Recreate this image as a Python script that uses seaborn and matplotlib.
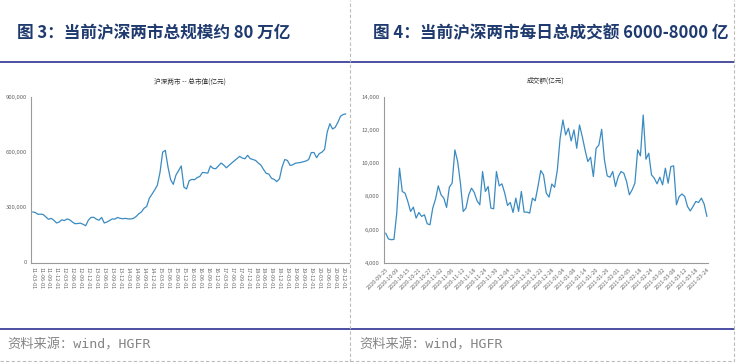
import numpy as np
import pandas as pd
import seaborn as sns
import matplotlib.pyplot as plt
from matplotlib.lines import Line2D
from matplotlib.ticker import FuncFormatter

# ---- data -------------------------------------------------------------
# monthly total market cap (亿元), 2011-03 .. 2021-01
cap_values = [
    275000, 272000, 262000, 263000, 261000, 248000, 235000, 240000, 230000, 215000,
    220000, 232000, 228000, 237000, 232000, 220000, 211000, 212000, 214000, 208000,
    200000, 230000, 245000, 246000, 236000, 230000, 245000, 215000, 220000, 228000,
    237000, 236000, 245000, 240000, 238000, 240000, 237000, 237000, 240000, 250000,
    265000, 275000, 295000, 305000, 350000, 372000, 395000, 420000, 490000, 600000,
    610000, 520000, 450000, 425000, 475000, 500000, 525000, 410000, 400000, 445000,
    452000, 450000, 462000, 468000, 490000, 488000, 486000, 525000, 512000, 510000,
    525000, 541000, 530000, 515000, 528000, 541000, 553000, 565000, 577000, 568000,
    564000, 583000, 565000, 560000, 555000, 541000, 530000, 506000, 485000, 481000,
    458000, 452000, 440000, 455000, 520000, 560000, 555000, 528000, 531000, 540000,
    542000, 544000, 548000, 552000, 560000, 598000, 598000, 570000, 592000, 600000,
    615000, 710000, 755000, 726000, 735000, 762000, 795000, 805000, 808000,
]
cap_months = pd.date_range("2011-03-01", periods=len(cap_values), freq="MS")
cap_ticks = list(range(0, 118, 3))
cap_tick_labels = [cap_months[i].strftime("%y-%m-%d") for i in cap_ticks]

# daily turnover (亿元), trading days 2020-09-25 .. 2021-03-24
turnover_values = [
    5800, 5450, 5400, 5420, 7000, 9700, 8300, 8200, 7700, 7100,
    7360, 6700, 7040, 6800, 6900, 6360, 6300, 7300, 7840, 8640,
    8100, 7900, 7340, 8560, 8800, 10800, 10100, 8800, 7100, 7300,
    8100, 8500, 8240, 7740, 7500, 9500, 8300, 8600, 7300, 7260,
    9500, 8640, 8760, 8200, 7460, 7640, 7040, 7900, 7100, 8300,
    7060, 7060, 7000, 7900, 7740, 8600, 9560, 9300, 8200, 7960,
    8750, 8550, 9600, 11500, 12600, 11700, 12100, 11340, 12000, 10900,
    12300, 11600, 10800, 10100, 10360, 9200, 10900, 11100, 12040, 10200,
    9240, 9160, 9500, 8600, 9200, 9500, 9400, 8900, 8100, 8400,
    8800, 10800, 10440, 12900, 10240, 10600, 9300, 9100, 8760, 9160,
    8700, 9700, 8800, 9800, 9840, 7500, 8000, 8150, 8000, 7400,
    7130, 7400, 7700, 7640, 7900, 7550, 6800,
]
turnover_tick_labels = [
    "2020-09-25", "2020-10-09", "2020-10-15", "2020-10-21", "2020-10-27",
    "2020-11-02", "2020-11-06", "2020-11-12", "2020-11-18", "2020-11-24",
    "2020-11-30", "2020-12-04", "2020-12-10", "2020-12-16", "2020-12-22",
    "2020-12-28", "2021-01-04", "2021-01-08", "2021-01-14", "2021-01-20",
    "2021-01-26", "2021-02-01", "2021-02-05", "2021-02-18", "2021-02-24",
    "2021-03-02", "2021-03-08", "2021-03-12", "2021-03-18", "2021-03-24",
]
turnover_ticks = list(range(0, 4 * len(turnover_tick_labels), 4))

titles = ["图 3：当前沪深两市总规模约 80 万亿", "图 4：当前沪深两市每日总成交额 6000-8000 亿"]
chart_titles = ["沪深两市 -- 总市值(亿元)", "成交额(亿元)"]
source = "资料来源：wind，HGFR"

# ---- style ------------------------------------------------------------
sns.set_style("white")
plt.rcParams["font.family"] = ["Noto Sans CJK SC", "DejaVu Sans"]

W, H = 738, 362
LINE = "#3a8bc2"
NAVY = "#1f3a6e"
RULE = "#2e3192"
GRAY = "#9a9a9a"


def fx(px):
    return px / W


def fy(py):
    return 1 - py / H


def axes_rect(x0, y0, x1, y1):
    return [fx(x0), fy(y1), fx(x1) - fx(x0), fy(y0) - fy(y1)]


def style_axes(ax):
    sns.despine(ax=ax)
    for s in ("left", "bottom"):
        ax.spines[s].set_color(GRAY)
        ax.spines[s].set_linewidth(0.8)
    ax.tick_params(axis="both", length=2, width=0.6, color=GRAY,
                   labelsize=4.3, labelcolor="#666666", pad=1)
    ax.yaxis.set_major_formatter(FuncFormatter(lambda v, p: f"{v:,.0f}"))
    ax.set_xlabel("")
    ax.set_ylabel("")


fig = plt.figure(figsize=(W / 100, H / 100), dpi=100)

# left chart
ax1 = fig.add_axes(axes_rect(31, 97, 349, 262.5))
cap_df = pd.DataFrame({"idx": np.arange(len(cap_values)), "cap": cap_values})
sns.lineplot(data=cap_df, x="idx", y="cap", ax=ax1, color=LINE, linewidth=0.9)
ax1.set_ylim(0, 900000)
ax1.set_yticks([0, 300000, 600000, 900000])
ax1.set_xlim(-0.6, 119.2)
ax1.set_xticks(cap_ticks)
ax1.set_xticklabels(cap_tick_labels, rotation=270)
style_axes(ax1)
ax1.tick_params(axis="x", labelsize=4.0)
ax1.set_title(chart_titles[0], fontsize=4.8, color="#333333", pad=10)

# right chart
ax2 = fig.add_axes(axes_rect(384, 96.7, 708, 263))
to_df = pd.DataFrame({"idx": np.arange(len(turnover_values)), "turnover": turnover_values})
sns.lineplot(data=to_df, x="idx", y="turnover", ax=ax2, color=LINE, linewidth=0.9)
ax2.set_ylim(4000, 14000)
ax2.set_yticks([4000, 6000, 8000, 10000, 12000, 14000])
ax2.set_xlim(-0.6, 116.4)
ax2.set_xticks(turnover_ticks)
ax2.set_xticklabels(turnover_tick_labels, rotation=45, ha="right", rotation_mode="anchor")
style_axes(ax2)
ax2.tick_params(axis="x", labelsize=4.0)
ax2.set_title(chart_titles[1], fontsize=4.8, color="#333333", pad=10)

# page furniture: headings, rules, separators, source
fig.text(fx(17), fy(33), titles[0], fontsize=12, fontweight="bold", color=NAVY, va="center")
fig.text(fx(373), fy(33), titles[1], fontsize=12, fontweight="bold", color=NAVY, va="center")

for y in (62, 329):
    fig.add_artist(Line2D([0, fx(734)], [fy(y), fy(y)], color=RULE, linewidth=1.2,
                          transform=fig.transFigure))
for x in (350, 734):
    fig.add_artist(Line2D([fx(x), fx(x)], [0, 1], color="#bbbbbb", linewidth=0.8,
                          linestyle=(0, (3, 2)), transform=fig.transFigure))
fig.add_artist(Line2D([0, fx(734)], [fy(360.5), fy(360.5)], color="#bbbbbb", linewidth=0.8,
                      linestyle=(0, (3, 2)), transform=fig.transFigure))

for x in (7, 359):
    fig.text(fx(x), fy(345), source, fontsize=9.5, color="#858585", va="center",
             family=["DejaVu Sans Mono", "Noto Sans CJK SC"])

fig.savefig("out.png", dpi=100)
